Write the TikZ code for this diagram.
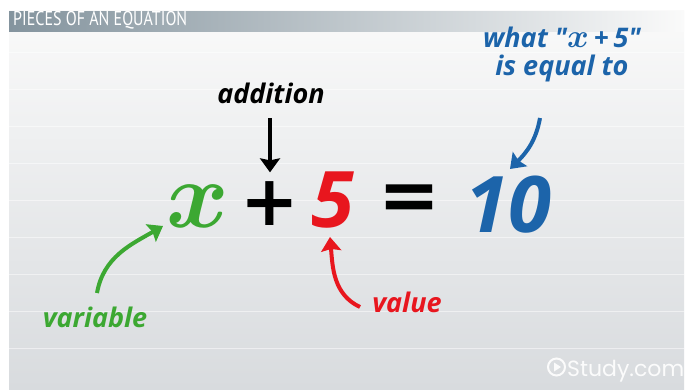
\RequirePackage{fix-cm}
\documentclass[tikz,border=0pt]{standalone}
\usepackage{amsmath}
\usepackage{fontspec}
\usetikzlibrary{arrows.meta}
\newfontfamily\lblfont{Open Sans}
\newfontfamily\titlefont{PT Sans}[FakeStretch=0.80]
\newfontfamily\logofont{Poppins}
\newfontfamily\symfont{DejaVu Sans}
\definecolor{eqgreen}{RGB}{60,168,50}
\definecolor{eqred}{RGB}{232,22,30}
\definecolor{eqblue}{RGB}{28,100,170}
\definecolor{bgtop}{RGB}{250,250,250}
\definecolor{bgbot}{RGB}{216,219,222}
\definecolor{barleft}{RGB}{132,148,158}
\tikzset{
  lbl/.style={inner sep=0pt, anchor=base, font=\lblfont\bfseries\itshape\fontsize{27}{28}\selectfont},
  bigsym/.style={inner sep=0pt, anchor=base, font=\lblfont\bfseries\itshape\fontsize{78}{78}\selectfont},
  opsym/.style={inner sep=0pt, anchor=center, font=\symfont\bfseries\fontsize{70}{70}\selectfont},
  arr/.style={line width=4pt, -{Stealth[length=14pt,width=20pt,inset=2pt]}},
  ruling/.style={white, line width=1pt, opacity=0.5}
}
\begin{document}
\begin{tikzpicture}[x=1pt,y=-1pt]
\useasboundingbox (0,0) rectangle (689,389);
\fill[white] (0,0) rectangle (689,389);
\shade[top color=bgtop, bottom color=bgbot] (9,10) rectangle (684,389);
\foreach \yy in {52,89,126,163,200,237,274,311,348}
  \draw[ruling] (9,\yy) -- (684,\yy);
\shade[left color=barleft, right color=bgtop] (9,11) rectangle (684,31);
\node[anchor=base west, inner sep=0pt, text=white, font=\titlefont\fontsize{20}{20}\selectfont] (title) at (13,25.5) {PIECES OF AN EQUATION};

% equation
\node[inner sep=0pt, anchor=base, text=eqgreen, font=\fontsize{95}{95}\selectfont] (xsym) at (198,227) {$\boldsymbol{x}$};
\node[opsym] (plus) at (270,203.5) {+};
\node[bigsym, text=eqred] (five) at (333,227) {5};
\node[opsym, font=\symfont\bfseries\fontsize{74}{74}\selectfont] (eq) at (409,202.5) {=};
\node[bigsym, text=eqblue] (ten) at (508,232) {10};

% labels
\node[lbl] (addlbl) at (271,103) {addition};
\node[lbl, text=eqgreen] (varlbl) at (95,327) {variable};
\node[lbl, text=eqred] (vallbl) at (407,312) {value};
\node[lbl, text=eqblue, align=center] (whatlbl) at (562,75) {what "{\fontsize{33}{28}\selectfont$\boldsymbol{x}$}\hspace{5pt}+\hspace{5pt}5"\\is equal to};

% arrows
\coordinate (xtip) at (163,226);
\coordinate (fivetip) at (330,237);
\coordinate (tentip) at (510,169);
\draw[arr, shorten >=9pt] ([shift={(-1,15)}]addlbl.base) -- (plus.north);
\draw[arr, eqgreen] ([shift={(2,-34)}]varlbl.base) to[out=80,in=210] (xtip);
\draw[arr, eqred] ([shift={(-47,-5)}]vallbl.base) to[out=155,in=-85] (fivetip);
\draw[arr, eqblue] ([shift={(-22,43)}]whatlbl.base) to[out=-100,in=45] (tentip);

% logo
\draw[white, line width=2pt, opacity=0.9] (556.5,367) circle (8.5);
\fill[white, opacity=0.9] (554,362.5) -- (561,367) -- (554,371.5) -- cycle;
\node[anchor=base west, inner sep=0pt, text=white, opacity=0.9, font=\logofont\fontsize{22}{22}\selectfont] (logo) at (567,376) {Study.com};
\end{tikzpicture}
\end{document}
